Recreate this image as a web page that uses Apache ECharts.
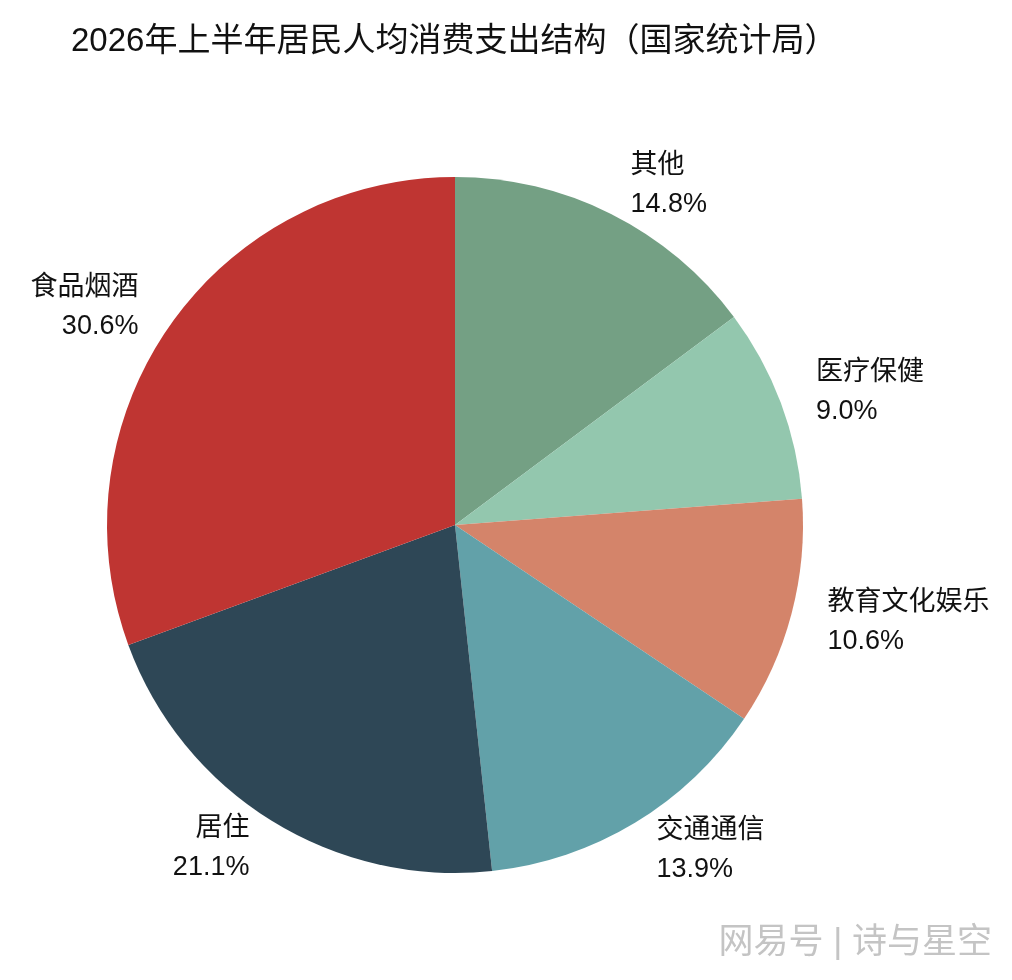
<!DOCTYPE html>
<html>
<head>
<meta charset="utf-8">
<script src="https://cdn.jsdelivr.net/npm/echarts@6/dist/echarts.min.js"></script>
<style>
  html, body { margin: 0; padding: 0; background: #fff; }
  #main { width: 1012px; height: 980px; }
</style>
</head>
<body>
<div id="main"></div>
<script>
// 数据：从12点方向顺时针
const categories = ["其他", "医疗保健", "教育文化娱乐", "交通通信", "居住", "食品烟酒"];
const shares = [14.8, 9.0, 10.6, 13.9, 21.1, 30.6];
const sliceColors = ["#74A084", "#93C7AE", "#D4846A", "#62A1A9", "#2E4756", "#BF3532"];

const FONT = "'Liberation Sans', 'Noto Sans CJK SC', sans-serif";

let myChart = echarts.init(document.getElementById("main"));
myChart.setOption({
  backgroundColor: "#fff",
  title: {
    text: "2026年上半年居民人均消费支出结构（国家统计局）",
    left: 66,
    top: 20,
    textStyle: {
      fontSize: 33,
      fontWeight: "normal",
      color: "#111",
      fontFamily: FONT
    }
  },
  graphic: [
    {
      type: "text",
      right: 20,
      top: 926,
      style: {
        text: "网易号 | 诗与星空",
        fontSize: 35,
        fill: "#c4c4c4",
        fontFamily: FONT
      }
    }
  ],
  color: sliceColors,
  series: [
    {
      type: "pie",
      center: [455, 525],
      radius: [0, 348],
      startAngle: 90,
      clockwise: true,
      avoidLabelOverlap: false,
      silent: true,
      data: categories.map((name, i) => ({ name: name, value: shares[i] })),
      label: {
        show: true,
        position: "outside",
        formatter: p => p.name + "\n" + p.value.toFixed(1) + "%",
        fontSize: 27,
        lineHeight: 39,
        padding: [5, 0, 0, 0],
        color: "#111",
        fontFamily: FONT
      },
      labelLine: {
        show: false,
        length: 32,
        length2: 0
      },
      itemStyle: {
        borderWidth: 0
      }
    }
  ]
});
</script>
</body>
</html>
